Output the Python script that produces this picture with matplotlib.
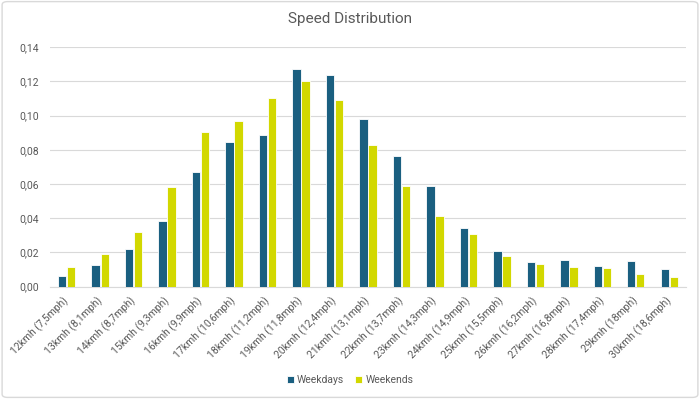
import matplotlib
matplotlib.use("Agg")
import matplotlib.pyplot as plt
import numpy as np
from matplotlib.ticker import FuncFormatter
from matplotlib.patches import FancyBboxPatch

categories = ["12kmh (7,5mph)", "13kmh (8,1mph)", "14kmh (8,7mph)", "15kmh (9,3mph)",
              "16kmh (9,9mph)", "17kmh (10,6mph)", "18kmh (11,2mph)", "19kmh (11,8mph)",
              "20kmh (12,4mph)", "21kmh (13,1mph)", "22kmh (13,7mph)", "23kmh (14,3mph)",
              "24kmh (14,9mph)", "25kmh (15,5mph)", "26kmh (16,2mph)", "27kmh (16,8mph)",
              "28kmh (17,4mph)", "29kmh (18mph)", "30kmh (18,6mph)"]
weekdays = [0.0062, 0.0125, 0.0220, 0.0384, 0.0671, 0.0844, 0.0885, 0.1273, 0.1238,
            0.0979, 0.0766, 0.0589, 0.0345, 0.0211, 0.0146, 0.0154, 0.0121, 0.0148, 0.0103]
weekends = [0.0115, 0.0189, 0.0320, 0.0583, 0.0907, 0.0971, 0.1102, 0.1201, 0.1094,
            0.0827, 0.0587, 0.0415, 0.0310, 0.0181, 0.0135, 0.0113, 0.0107, 0.0076, 0.0055]
series_names = ["Weekdays", "Weekends"]
colors = ["#1a5f80", "#d2d800"]

plt.rcParams['font.family'] = ['Roboto', 'DejaVu Sans']
fig = plt.figure(figsize=(7, 3.99), dpi=100)
ax = fig.add_axes([0.0714, 0.2815, 0.9086, 0.6])

x = np.arange(len(categories))
w = 0.25
off = 0.135
ax.bar(x - off, weekdays, width=w, color=colors[0], edgecolor="white", linewidth=0.6,
       label=series_names[0], zorder=3)
ax.bar(x + off, weekends, width=w, color=colors[1], edgecolor="white", linewidth=0.6,
       label=series_names[1], zorder=3)

ax.set_xlim(-0.5, len(categories) - 0.5)
ax.set_ylim(0, 0.14)
ax.set_yticks(np.arange(0, 0.1401, 0.02))
ax.yaxis.set_major_formatter(FuncFormatter(lambda v, p: f"{v:.2f}".replace(".", ",")))
ax.grid(axis="y", color="#d9d9d9", linewidth=0.8, zorder=0)
for s in ["top", "right", "left"]:
    ax.spines[s].set_visible(False)
ax.spines["bottom"].set_color("#d9d9d9")
ax.spines["bottom"].set_linewidth(0.8)
ax.set_xticks(x)
ax.set_xticklabels(categories, rotation=45, ha="right", va="center", rotation_mode="anchor")
ax.tick_params(axis="both", length=0, labelsize=7.5, labelcolor="#595959")
ax.tick_params(axis="x", pad=9)
ax.tick_params(axis="y", pad=8)

fig.text(0.5, 0.952, "Speed Distribution", ha="center", va="center", fontsize=11, color="#595959")

leg = fig.legend(loc="center", bbox_to_anchor=(0.5, 0.048), ncol=2, frameon=False,
                 fontsize=7.5, handlelength=0.7, handleheight=0.7, handletextpad=0.3,
                 columnspacing=1.0, labelcolor="#595959")

border = FancyBboxPatch((0.003, 0.004), 0.994, 0.992, boxstyle="round,pad=0,rounding_size=0.008",
                        transform=fig.transFigure, facecolor="none", edgecolor="#d9d9d9",
                        linewidth=1.0)
fig.patches.append(border)

fig.savefig("out.png", dpi=100)
